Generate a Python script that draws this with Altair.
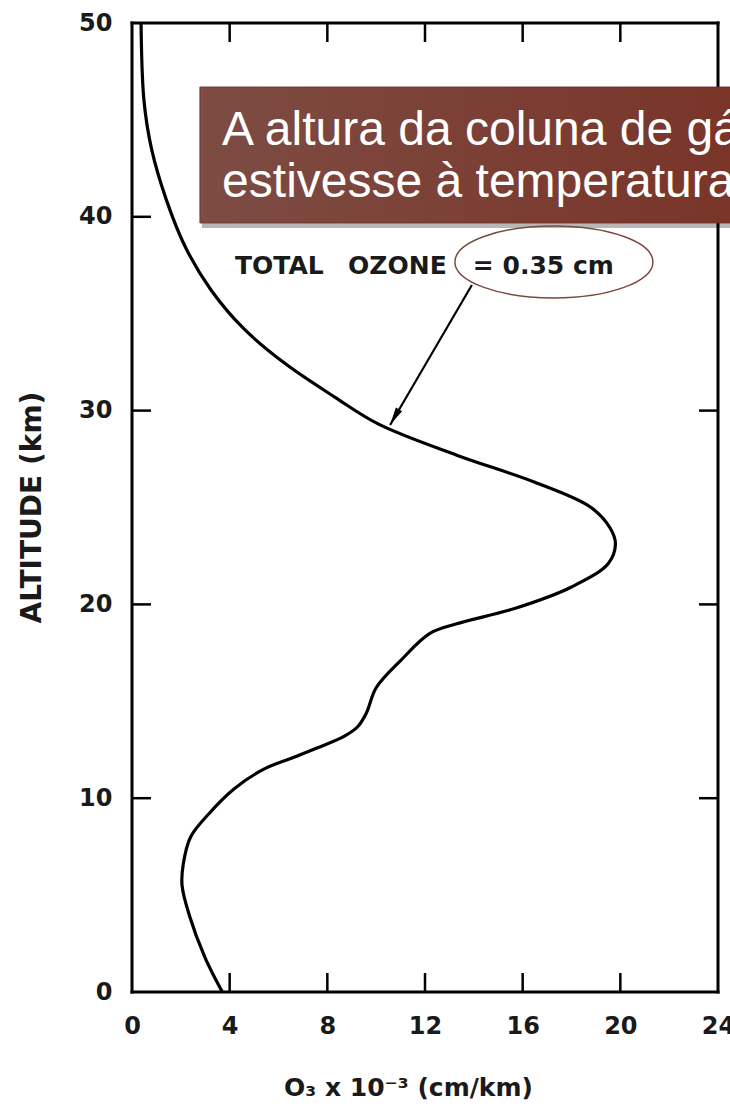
import altair as alt
import pandas as pd

# ---- ozone profile ----
altitude_km = [0.0, 1.75, 3.95, 5.5, 6.6, 8.0, 9.2, 10.5, 11.5, 12.1, 12.6, 13.2, 13.7, 14.4,
               15.7, 17.1, 18.5, 19.0, 19.8, 20.9, 22.1, 23.1, 23.9, 25.0, 26.3, 27.7,
               29.3, 30.7, 32.4, 34.2, 36.2, 38.4, 40.9, 43.5, 46.0, 50.0]
o3_cm_per_km = [3.7, 3.0, 2.35, 2.05, 2.1, 2.4, 3.15, 4.2, 5.4, 6.6, 7.6, 8.7, 9.25, 9.6,
                10.0, 11.0, 12.2, 13.3, 15.7, 18.0, 19.5, 19.8, 19.6, 18.8, 16.5, 13.3,
                10.1, 8.3, 6.3, 4.6, 3.25, 2.2, 1.4, 0.8, 0.49, 0.37]

# ---- axes ----
x_tick_values = [0, 4, 8, 12, 16, 20, 24]
y_tick_values = [0, 10, 20, 30, 40, 50]
inner_x_ticks = [4, 8, 12, 16, 20]
inner_y_ticks = [10, 20, 30, 40]
x_title = "O₃ x 10⁻³ (cm/km)"
y_title = "ALTITUDE (km)"

# ---- annotations (data units) ----
box_left, box_right, box_top, box_bottom = [2.78], [25.0], [46.7], [39.68]
box_lines = ["A altura da coluna de gá", "estivesse à temperatura"]
box_line_x = [3.69, 3.69]
box_line_y = [43.70, 41.02]

label_parts = ["TOTAL", "OZONE", "= 0.35 cm"]
label_x = [4.22, 8.85, 13.96]
label_y = [37.05, 37.05, 37.05]

ellipse_x, ellipse_y = [17.28], [37.67]
arrow_start_x, arrow_start_y = [13.92], [36.48]
arrow_tip_x, arrow_tip_y = [10.57], [29.26]
arrow_head_x, arrow_head_y = [10.75], [29.66]

W, H = 586, 969
TICK = 19
INK = "#1a1a1a"

xscale = alt.Scale(domain=[0, 24], nice=False, zero=False)
yscale = alt.Scale(domain=[0, 50], nice=False, zero=False)

xaxis = alt.Axis(values=x_tick_values, title=x_title, grid=False, ticks=False, domain=False,
                 labelFont="DejaVu Sans", labelFontWeight="bold", labelFontSize=24,
                 labelColor=INK, labelPadding=22, labelFlush=False,
                 titleFont="DejaVu Sans", titleFontWeight="bold", titleFontSize=25,
                 titleColor=INK, titleX=276, titleY=95, titleAlign="center",
                 titleBaseline="middle")
yaxis = alt.Axis(values=y_tick_values, title=y_title, grid=False, ticks=False, domain=False,
                 labelFont="DejaVu Sans", labelFontWeight="bold", labelFontSize=24,
                 labelColor=INK, labelPadding=20, labelFlush=False,
                 titleFont="DejaVu Sans", titleFontWeight="bold", titleFontSize=28,
                 titleColor=INK, titleX=-100, titleY=484, titleAngle=270,
                 titleAlign="center", titleBaseline="middle")


def X(f="x"):
    return alt.X(f"{f}:Q", scale=xscale, axis=xaxis)


def Y(f="y"):
    return alt.Y(f"{f}:Q", scale=yscale, axis=yaxis)


curve_df = pd.DataFrame({"x": o3_cm_per_km, "y": altitude_km})
frame_df = pd.DataFrame({"x": [0, 0, 0, 24], "y": [0, 50, 0, 0],
                         "x2": [24, 24, 0, 24], "y2": [0, 50, 50, 50]})
xt_df = pd.DataFrame({"x": inner_x_ticks})
yt_df = pd.DataFrame({"y": inner_y_ticks})
box_df = pd.DataFrame({"x": box_left, "x2": box_right, "y": box_top, "y2": box_bottom})
box_text_df = pd.DataFrame({"x": box_line_x, "y": box_line_y, "t": box_lines})
label_df = pd.DataFrame({"x": label_x, "y": label_y, "t": label_parts})
ellipse_df = pd.DataFrame({"x": ellipse_x, "y": ellipse_y})
arrow_df = pd.DataFrame({"x": arrow_start_x, "y": arrow_start_y,
                         "x2": arrow_tip_x, "y2": arrow_tip_y})
head_df = pd.DataFrame({"x": arrow_head_x, "y": arrow_head_y})

frame = alt.Chart(frame_df).mark_rule(color="black", strokeWidth=3, strokeCap="square").encode(
    x=X(), y=Y(), x2="x2:Q", y2="y2:Q")

ticks_bottom = alt.Chart(xt_df).mark_rule(color="black", strokeWidth=2.5).encode(
    x=X(), y=alt.value(H), y2=alt.value(H - TICK))
ticks_top = alt.Chart(xt_df).mark_rule(color="black", strokeWidth=2.5).encode(
    x=X(), y=alt.value(0), y2=alt.value(TICK))
ticks_left = alt.Chart(yt_df).mark_rule(color="black", strokeWidth=2.5).encode(
    y=Y(), x=alt.value(0), x2=alt.value(TICK))
ticks_right = alt.Chart(yt_df).mark_rule(color="black", strokeWidth=2.5).encode(
    y=Y(), x=alt.value(W), x2=alt.value(W - TICK))

curve = alt.Chart(curve_df).mark_line(color="black", strokeWidth=3.2,
                                      interpolate="catmull-rom").encode(
    x=X(), y=Y(), order=alt.Order("y:Q"))

shadow = alt.Chart(box_df).mark_rect(color="#000000", opacity=0.28, xOffset=2, x2Offset=2,
                                     yOffset=5, y2Offset=5).encode(
    x=X(), x2="x2:Q", y=Y(), y2="y2:Q")

box = alt.Chart(box_df).mark_rect(
    fill=alt.LinearGradient(gradient="linear", x1=0, x2=1, y1=0, y2=0,
                            stops=[alt.GradientStop(color="#7d4c43", offset=0),
                                   alt.GradientStop(color="#7a3428", offset=1)]),
    stroke="#6a2d24", strokeWidth=0.8).encode(x=X(), x2="x2:Q", y=Y(), y2="y2:Q")

box_text = alt.Chart(box_text_df).mark_text(align="left", baseline="alphabetic",
                                            font="Liberation Sans", fontSize=48,
                                            color="white").encode(x=X(), y=Y(), text="t:N")

label = alt.Chart(label_df).mark_text(align="left", baseline="alphabetic",
                                      font="DejaVu Sans", fontWeight="bold", fontSize=25,
                                      color=INK).encode(x=X(), y=Y(), text="t:N")

ellipse = alt.Chart(ellipse_df).mark_point(
    shape="M-1,0A1,0.3636,0,1,0,1,0A1,0.3636,0,1,0,-1,0Z",
    size=39204, filled=False, stroke="#7a4a40", strokeWidth=1.5, opacity=1).encode(
    x=X(), y=Y())

arrow = alt.Chart(arrow_df).mark_rule(color="black", strokeWidth=2.2).encode(
    x=X(), y=Y(), x2="x2:Q", y2="y2:Q")

head = alt.Chart(head_df).mark_point(shape="M0,-1L0.4,1L-0.4,1Z", size=324, filled=True,
                                     color="black", opacity=1, angle=210).encode(x=X(), y=Y())

chart = alt.layer(frame, ticks_bottom, ticks_top, ticks_left, ticks_right, curve,
                  shadow, box, box_text, label, ellipse, arrow, head).properties(
    width=W, height=H,
    autosize=alt.AutoSizeParams(type="none"),
    padding={"left": 132, "top": 23, "right": 12, "bottom": 118},
    background="white",
).configure_view(strokeWidth=0)

chart.save("out.html", embed_options={"renderer": "svg", "actions": False})
